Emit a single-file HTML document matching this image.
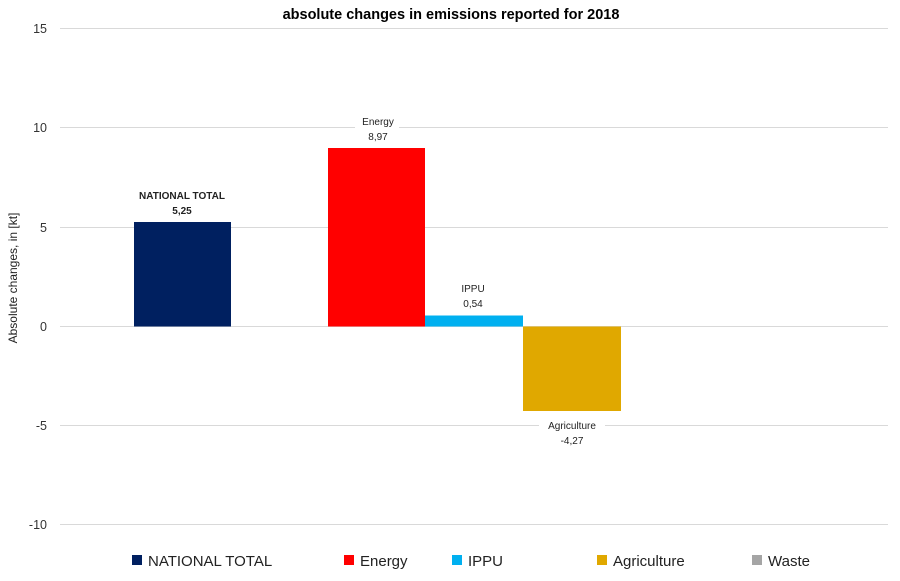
<!DOCTYPE html>
<html><head><meta charset="utf-8"><style>
body{margin:0;background:#fff}
svg{display:block;font-family:"Liberation Sans",sans-serif}
</style></head><body>
<svg width="900" height="581" viewBox="0 0 900 581">
<rect width="900" height="581" fill="#fff"/>
<text x="451" y="19" text-anchor="middle" font-size="14.5" font-weight="bold" fill="#000">absolute changes in emissions reported for 2018</text>
<g stroke="#d9d9d9" stroke-width="1">
<line x1="60" x2="888" y1="28.5" y2="28.5"/>
<line x1="60" x2="888" y1="127.5" y2="127.5"/>
<line x1="60" x2="888" y1="227.5" y2="227.5"/>
<line x1="60" x2="888" y1="326.5" y2="326.5"/>
<line x1="60" x2="888" y1="425.5" y2="425.5"/>
<line x1="60" x2="888" y1="524.5" y2="524.5"/>
</g>
<g font-size="12.5" fill="#333" text-anchor="end">
<text x="47" y="33">15</text>
<text x="47" y="132">10</text>
<text x="47" y="232">5</text>
<text x="47" y="331">0</text>
<text x="47" y="430">-5</text>
<text x="47" y="529">-10</text>
</g>
<text transform="translate(17,278) rotate(-90)" text-anchor="middle" font-size="12" fill="#222">Absolute changes, in [kt]</text>
<rect x="134" y="222" width="97" height="104.5" fill="#002060"/>
<rect x="328" y="148" width="97" height="178.5" fill="#ff0000"/>
<rect x="425" y="315.5" width="98" height="11" fill="#00b0f0"/>
<rect x="523" y="326.5" width="98" height="84.5" fill="#e0a800"/>
<g font-size="10" fill="#222" text-anchor="middle">
<text x="182" y="199" font-weight="bold">NATIONAL TOTAL</text>
<text x="182" y="214" font-weight="bold">5,25</text>
<rect x="355" y="116" width="44" height="14" fill="#fff"/>
<text x="378" y="125">Energy</text>
<text x="378" y="140">8,97</text>
<text x="473" y="292">IPPU</text>
<text x="473" y="307">0,54</text>
<rect x="539" y="418" width="66" height="14" fill="#fff"/>
<text x="572" y="429">Agriculture</text>
<text x="572" y="444">-4,27</text>
</g>
<g font-size="15" fill="#222">
<rect x="132" y="555" width="10" height="10" fill="#002060"/><text x="148" y="566">NATIONAL TOTAL</text>
<rect x="344" y="555" width="10" height="10" fill="#ff0000"/><text x="360" y="566">Energy</text>
<rect x="452" y="555" width="10" height="10" fill="#00b0f0"/><text x="468" y="566">IPPU</text>
<rect x="597" y="555" width="10" height="10" fill="#e0a800"/><text x="613" y="566">Agriculture</text>
<rect x="752" y="555" width="10" height="10" fill="#a5a5a5"/><text x="768" y="566">Waste</text>
</g>
</svg>
</body></html>
